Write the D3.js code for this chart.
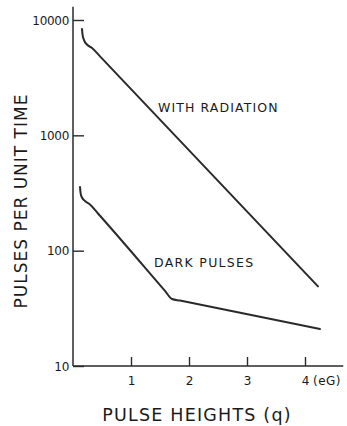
<!DOCTYPE html>
<html>
<head>
<meta charset="utf-8">
<script src="https://cdn.jsdelivr.net/npm/d3@7/dist/d3.min.js"></script>
<style>
  html, body { margin: 0; padding: 0; background: #fff; }
  svg { display: block; }
  text { font-family: "DejaVu Sans", sans-serif; fill: #1a1a1a; }
</style>
</head>
<body>
<svg id="chart" width="347" height="426"></svg>
<script>
// Pulse-height distribution: counts per unit time vs pulse height (eG)
const radiationQ = [0.155, 0.166, 0.19, 0.241, 0.328, 0.466, 4.224];
const radiationRate = [8360, 7400, 6700, 6130, 5720, 4840, 49];

const darkQ = [0.121, 0.131, 0.155, 0.207, 0.293, 0.431, 1.586, 1.707, 1.845, 4.259];
const darkRate = [356, 316, 289, 270, 251, 210, 44.8, 38.1, 36.9, 20.9];

const xTicks = [1, 2, 3, 4];
const yTicks = [10, 100, 1000, 10000];

const svg = d3.select("#chart");
const ink = "#2a2a2a";

const x = d3.scaleLinear().domain([0, 4]).range([73, 305]);
const y = d3.scaleLog().domain([10, 10000]).range([366, 20]);

// Y axis: ticks point inward (to the right)
const yAxis = svg.append("g")
  .attr("transform", `translate(${x(0)},0)`)
  .call(d3.axisLeft(y).tickValues(yTicks).tickFormat(d3.format("d"))
    .tickSize(-11).tickPadding(4));
yAxis.select(".domain").remove();
yAxis.selectAll(".tick line").attr("stroke", ink).attr("stroke-width", 1.4);
yAxis.selectAll(".tick text").attr("font-size", 12).attr("dy", "0.35em")
  .attr("letter-spacing", "-0.3px");
svg.append("line")
  .attr("x1", x(0)).attr("x2", x(0))
  .attr("y1", y(13000)).attr("y2", y(10))
  .attr("stroke", ink).attr("stroke-width", 1.5);

// X axis: ticks point upward
const xAxis = svg.append("g")
  .attr("transform", `translate(0,${y(10)})`)
  .call(d3.axisBottom(x).tickValues(xTicks).tickFormat(d3.format("d"))
    .tickSize(-9).tickPadding(10));
xAxis.select(".domain").remove();
xAxis.selectAll(".tick line").attr("stroke", ink).attr("stroke-width", 1.4);
xAxis.selectAll(".tick text").attr("font-size", 12);
svg.append("line")
  .attr("x1", x(0)).attr("x2", x(4.66))
  .attr("y1", y(10)).attr("y2", y(10))
  .attr("stroke", ink).attr("stroke-width", 1.5);

svg.append("text")
  .attr("x", x(4) + 8).attr("y", y(10) + 19)
  .attr("font-size", 12).attr("letter-spacing", "0.5px")
  .text("(eG)");

// Curves
const line = d3.line()
  .x(d => x(d[0]))
  .y(d => y(d[1]))
  .curve(d3.curveMonotoneX);

const radiation = radiationQ.map((q, i) => [q, radiationRate[i]]);
const dark = darkQ.map((q, i) => [q, darkRate[i]]);

[radiation, dark].forEach(series => {
  svg.append("path")
    .datum(series)
    .attr("d", line)
    .attr("fill", "none")
    .attr("stroke", ink)
    .attr("stroke-width", 2)
    .attr("stroke-linejoin", "round")
    .attr("stroke-linecap", "round");
});

// Curve labels
svg.append("text")
  .attr("x", 158).attr("y", 112)
  .attr("font-size", 12.5).attr("letter-spacing", "1.1px")
  .text("WITH RADIATION");
svg.append("text")
  .attr("x", 154).attr("y", 267)
  .attr("font-size", 12.5).attr("letter-spacing", "1.3px")
  .text("DARK PULSES");

// Axis titles
svg.append("text")
  .attr("x", 197).attr("y", 421)
  .attr("text-anchor", "middle")
  .attr("font-size", 17.5).attr("letter-spacing", "1.2px")
  .text("PULSE HEIGHTS (q)");
svg.append("text")
  .attr("transform", "translate(27,201) rotate(-90)")
  .attr("text-anchor", "middle")
  .attr("font-size", 17).attr("letter-spacing", "1px")
  .text("PULSES PER UNIT TIME");
</script>
</body>
</html>
